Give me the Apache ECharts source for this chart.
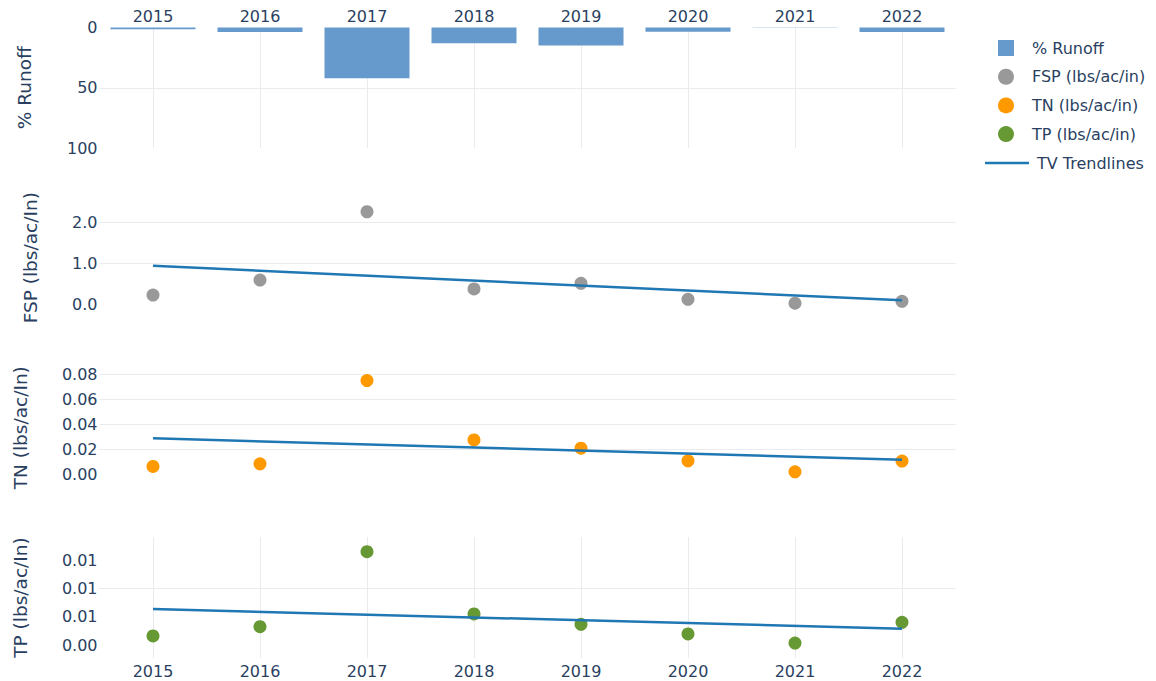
<!DOCTYPE html>
<html>
<head>
<meta charset="utf-8">
<title>Runoff and nutrient loads</title>
<script src="https://cdn.jsdelivr.net/npm/echarts@6/dist/echarts.min.js"></script>
<style>
  html, body { margin: 0; padding: 0; background: #ffffff; }
  #chart { width: 1156px; height: 681px; }
</style>
</head>
<body>
<div id="chart"></div>
<script>
// ---- data ----
const years = ['2015', '2016', '2017', '2018', '2019', '2020', '2021', '2022'];
const runoffPct = [1.5, 3.7, 42.2, 13.0, 15.0, 3.5, 0.3, 3.8];
const fsp = [0.22, 0.59, 2.27, 0.37, 0.51, 0.115, 0.02, 0.066];
const tn = [0.0063, 0.0084, 0.0753, 0.0276, 0.021, 0.0108, 0.002, 0.0106];
const tp = [0.0016, 0.00324, 0.01646, 0.00548, 0.00366, 0.00195, 0.00036, 0.00401];

// trendline values at the first and last year
const fspTrend = [0.94, 0.09];
const tnTrend = [0.0289, 0.0117];
const tpTrend = [0.00636, 0.00288];

// tick values and their printed labels
const runoffTicks = [0, 50, 100];
const runoffTickLabels = ['0', '50', '100'];
const fspTicks = [0, 1, 2];
const fspTickLabels = ['0.0', '1.0', '2.0'];
const tnTicks = [0, 0.02, 0.04, 0.06, 0.08];
const tnTickLabels = ['0.00', '0.02', '0.04', '0.06', '0.08'];
const tpTicks = [0, 0.005, 0.01, 0.015];
const tpTickLabels = ['0.00', '0.01', '0.01', '0.01'];

// horizontal grid lines per panel
const runoffGridLines = [50];
const fspGridLines = [1, 2];
const tnGridLines = [0.02, 0.04, 0.06, 0.08];
const tpGridLines = [0.005, 0.01, 0.015];

// ---- styling ----
const FONT = '"DejaVu Sans", Verdana, sans-serif';
const INK = '#2a3f5f';
const GRID = '#e9ebee';
const TREND = '#1f77b4';
const LEFT = 99.5, WIDTH = 856;

function tickFormatter(ticks, labels, step) {
  return function (v) {
    for (let i = 0; i < ticks.length; i++) {
      if (Math.abs(v - ticks[i]) < step * 1e-3) return labels[i];
    }
    return '';
  };
}

function gridLines(values) {
  return {
    silent: true,
    symbol: ['none', 'none'],
    z: 0,
    animation: false,
    label: { show: false },
    lineStyle: { type: 'solid', color: GRID, width: 1 },
    emphasis: { disabled: true },
    data: values.map(v => ({ yAxis: v }))
  };
}

function trendData(pair) {
  return years.map((y, i) => (i === 0 ? pair[0] : (i === years.length - 1 ? pair[1] : null)));
}

const yLabel = (ticks, labels, step) => ({
  fontFamily: FONT, fontSize: 16, color: INK, margin: 2,
  formatter: tickFormatter(ticks, labels, step)
});

const hiddenX = (gi) => ({ type: 'category', gridIndex: gi, data: years, show: false, boundaryGap: true });

const verticalGrid = { show: true, alignWithLabel: true, interval: 0, lineStyle: { color: GRID, width: 1 } };

const option = {
  backgroundColor: '#ffffff',
  animation: false,
  textStyle: { fontFamily: FONT },
  grid: [
    { left: LEFT, width: WIDTH, top: 27.5, height: 120.5 },     // % runoff
    { left: LEFT, width: WIDTH, top: 202.4, height: 121.95 },   // FSP
    { left: LEFT, width: WIDTH, top: 349.8, height: 149.4 },    // TN
    { left: LEFT, width: WIDTH, top: 531.65, height: 141.75 },  // TP
    { left: LEFT, width: WIDTH, top: 537, height: 121 }         // TP frame: year grid + bottom labels
  ],
  xAxis: [
    {
      type: 'category', gridIndex: 0, data: years, position: 'top', boundaryGap: true,
      axisLine: { show: false }, axisTick: { show: false },
      axisLabel: { fontFamily: FONT, fontSize: 16, color: INK, margin: 3, interval: 0 },
      splitLine: verticalGrid
    },
    hiddenX(1), hiddenX(2), hiddenX(3),
    {
      type: 'category', gridIndex: 4, data: years, position: 'bottom', boundaryGap: true,
      axisLine: { show: false }, axisTick: { show: false },
      axisLabel: { fontFamily: FONT, fontSize: 16, color: INK, margin: 5, interval: 0 },
      splitLine: verticalGrid
    }
  ],
  yAxis: [
    {
      type: 'value', gridIndex: 0, inverse: true, min: 0, max: 100, interval: 50,
      axisLine: { show: false }, axisTick: { show: false }, splitLine: { show: false },
      axisLabel: yLabel(runoffTicks, runoffTickLabels, 50)
    },
    {
      type: 'value', gridIndex: 1, min: -0.5, max: 2.5, interval: 0.5,
      axisLine: { show: false }, axisTick: { show: false }, splitLine: { show: false },
      axisLabel: yLabel(fspTicks, fspTickLabels, 0.5)
    },
    {
      type: 'value', gridIndex: 2, min: -0.02, max: 0.1, interval: 0.02,
      axisLine: { show: false }, axisTick: { show: false }, splitLine: { show: false },
      axisLabel: yLabel(tnTicks, tnTickLabels, 0.02)
    },
    {
      type: 'value', gridIndex: 3, min: -0.005, max: 0.02, interval: 0.005,
      axisLine: { show: false }, axisTick: { show: false }, splitLine: { show: false },
      axisLabel: yLabel(tpTicks, tpTickLabels, 0.005)
    },
    { type: 'value', gridIndex: 4, min: 0, max: 1, show: false }
  ],
  legend: [
    {
      orient: 'vertical', left: 993, top: 35,
      itemWidth: 16, itemHeight: 16, itemGap: 12.7, selectedMode: false,
      textStyle: { fontFamily: FONT, fontSize: 16, color: INK, lineHeight: 16, padding: [0, 0, 0, 13] },
      data: [
        { name: '% Runoff', icon: 'rect' },
        { name: 'FSP (lbs/ac/in)', icon: 'circle' },
        { name: 'TN (lbs/ac/in)', icon: 'circle' },
        { name: 'TP (lbs/ac/in)', icon: 'circle' }
      ]
    },
    {
      orient: 'vertical', left: 980, top: 150,
      itemWidth: 44, itemHeight: 2.5, selectedMode: false,
      textStyle: { fontFamily: FONT, fontSize: 16, color: INK, lineHeight: 16, padding: [0, 0, 0, 3] },
      data: [{ name: 'TV Trendlines', icon: 'rect', itemStyle: { color: TREND } }]
    }
  ],
  graphic: [
    { type: 'text', x: 24.5, y: 87.75, rotation: Math.PI / 2,
      style: { text: '% Runoff', fontFamily: FONT, fontSize: 18.5, fill: INK, textAlign: 'center', textVerticalAlign: 'middle' } },
    { type: 'text', x: 30, y: 257.75, rotation: Math.PI / 2,
      style: { text: 'FSP (lbs/ac/In)', fontFamily: FONT, fontSize: 18.5, fill: INK, textAlign: 'center', textVerticalAlign: 'middle' } },
    { type: 'text', x: 20, y: 427.75, rotation: Math.PI / 2,
      style: { text: 'TN (lbs/ac/In)', fontFamily: FONT, fontSize: 18.5, fill: INK, textAlign: 'center', textVerticalAlign: 'middle' } },
    { type: 'text', x: 20, y: 597.5, rotation: Math.PI / 2,
      style: { text: 'TP (lbs/ac/In)', fontFamily: FONT, fontSize: 18.5, fill: INK, textAlign: 'center', textVerticalAlign: 'middle' } }
  ],
  series: [
    {
      name: '% Runoff', type: 'bar', xAxisIndex: 0, yAxisIndex: 0,
      data: runoffPct, barWidth: 85,
      itemStyle: { color: '#6699cc' },
      markLine: gridLines(runoffGridLines)
    },
    {
      name: 'FSP (lbs/ac/in)', type: 'scatter', xAxisIndex: 1, yAxisIndex: 1,
      data: fsp, symbolSize: 13, itemStyle: { color: '#999999', opacity: 1 },
      markLine: gridLines(fspGridLines)
    },
    {
      name: 'TV Trendlines', type: 'line', xAxisIndex: 1, yAxisIndex: 1,
      data: trendData(fspTrend), connectNulls: true, symbol: 'none', z: 3,
      lineStyle: { color: TREND, width: 2.5 }, itemStyle: { color: TREND }
    },
    {
      name: 'TN (lbs/ac/in)', type: 'scatter', xAxisIndex: 2, yAxisIndex: 2,
      data: tn, symbolSize: 13, itemStyle: { color: '#ff9900', opacity: 1 },
      markLine: gridLines(tnGridLines)
    },
    {
      name: 'TV Trendlines', type: 'line', xAxisIndex: 2, yAxisIndex: 2,
      data: trendData(tnTrend), connectNulls: true, symbol: 'none', z: 3,
      lineStyle: { color: TREND, width: 2.5 }, itemStyle: { color: TREND }
    },
    {
      name: 'TP (lbs/ac/in)', type: 'scatter', xAxisIndex: 3, yAxisIndex: 3,
      data: tp, symbolSize: 13, itemStyle: { color: '#669933', opacity: 1 },
      markLine: gridLines(tpGridLines)
    },
    {
      name: 'TV Trendlines', type: 'line', xAxisIndex: 3, yAxisIndex: 3,
      data: trendData(tpTrend), connectNulls: true, symbol: 'none', z: 3,
      lineStyle: { color: TREND, width: 2.5 }, itemStyle: { color: TREND }
    }
  ]
};

const chart = echarts.init(document.getElementById('chart'), null, { renderer: 'svg' });
chart.setOption(option);
</script>
</body>
</html>
